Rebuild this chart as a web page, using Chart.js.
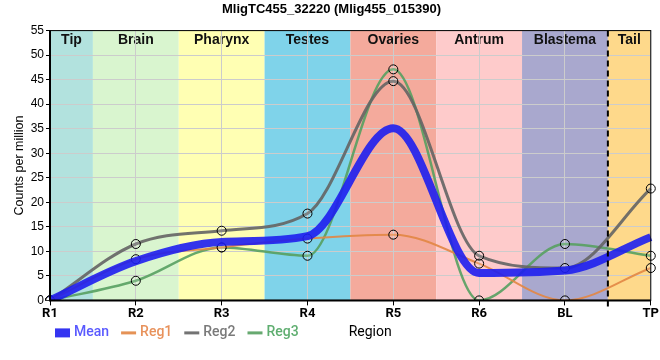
<!DOCTYPE html>
<html>
<head>
<meta charset="utf-8">
<script src="https://cdn.jsdelivr.net/npm/chart.js@4"></script>
<style>
  body { margin: 0; background: #fff; }
  #wrap { width: 660px; height: 360px; }
</style>
</head>
<body>
<div id="wrap"><canvas id="myChart" width="660" height="360"></canvas></div>
<script>
// data
const categories = ['R1', 'R2', 'R3', 'R4', 'R5', 'R6', 'BL', 'TP'];
const meanValues = [0, 8.0, 11.9, 13.1, 35.1, 5.6, 6.1, 12.9];
const reg1Values = [0, 8.4, 10.8, 12.6, 13.4, 7.5, 0, 6.6];
const reg2Values = [0, 11.5, 14.2, 17.7, 44.7, 9.1, 6.6, 22.8];
const reg3Values = [0, 4.0, 10.8, 9.1, 47.1, 0, 11.5, 9.1];
const regionNames = ['Tip', 'Brain', 'Pharynx', 'Testes', 'Ovaries', 'Antrum', 'Blastema', 'Tail'];
const regionColors = ['#b2e2de', '#d9f5cf', '#ffffb3', '#7fd3ea', '#f4aa9c', '#fecbcb', '#a9a8ce', '#fed98b'];
const legendTextColors = ['#5a5aff', '#e8925c', '#7a7a7a', '#5fae70'];
const yMax = 55;
const yStep = 5;

// background bands for each region + labels + dashed line before the tail
const bandsPlugin = {
    id: 'bands',
    beforeDraw(chart) {
        const ctx = chart.ctx;
        const x = chart.scales.x;
        const area = chart.chartArea;
        const n = categories.length;
        ctx.save();
        for (let i = 0; i < n; i++) {
            let left = i === 0 ? area.left : (x.getPixelForValue(i - 1) + x.getPixelForValue(i)) / 2;
            let right = i === n - 1 ? area.right : (x.getPixelForValue(i) + x.getPixelForValue(i + 1)) / 2;
            ctx.fillStyle = regionColors[i];
            ctx.fillRect(left, area.top, right - left, area.bottom - area.top);
            ctx.fillStyle = '#111';
            ctx.font = 'bold 14px "Liberation Sans", Arial, sans-serif';
            ctx.textAlign = 'center';
            ctx.textBaseline = 'middle';
            ctx.fillText(regionNames[i], (left + right) / 2, area.top + 10);
        }
        ctx.restore();
    },
    afterDatasetsDraw(chart) {
        const ctx = chart.ctx;
        const x = chart.scales.x;
        const area = chart.chartArea;
        const n = categories.length;
        const dx = (x.getPixelForValue(n - 2) + x.getPixelForValue(n - 1)) / 2;
        ctx.save();
        ctx.strokeStyle = '#000';
        ctx.lineWidth = 2;
        ctx.setLineDash([6, 4]);
        ctx.beginPath();
        ctx.moveTo(dx, area.top);
        ctx.lineTo(dx, area.bottom + 6);
        ctx.stroke();
        ctx.setLineDash([]);
        // frame
        ctx.lineWidth = 1;
        ctx.strokeRect(area.left, area.top, area.right - area.left, area.bottom - area.top);
        ctx.lineWidth = 2;
        ctx.beginPath();
        ctx.moveTo(area.left, area.top);
        ctx.lineTo(area.left, area.bottom);
        ctx.lineTo(area.right, area.bottom);
        ctx.stroke();
        ctx.restore();
    },
    afterDraw(chart) {
        // legend row drawn by hand, with the "Region" axis title at its end
        const ctx = chart.ctx;
        const area = chart.chartArea;
        const y = area.bottom + 32;
        let x = area.left + 5;
        ctx.save();
        ctx.font = '500 14px Roboto, sans-serif';
        ctx.textAlign = 'left';
        ctx.textBaseline = 'middle';
        chart.data.datasets.forEach((ds, i) => {
            ctx.fillStyle = ds.borderColor;
            if (i === 0) {
                ctx.fillRect(x, y - 4, 15, 9);
            } else {
                ctx.fillRect(x, y - 1, 15, 3);
            }
            x += 19;
            ctx.fillStyle = legendTextColors[i];
            ctx.fillText(ds.label, x, y);
            x += ctx.measureText(ds.label).width + 12;
        });
        ctx.fillStyle = '#000';
        ctx.font = '14px Roboto, sans-serif';
        ctx.fillText('Region', x + 38, y);
        ctx.restore();
    }
};

const ctx = document.getElementById('myChart').getContext('2d');
new Chart(ctx, {
    type: 'line',
    data: {
        labels: categories,
        datasets: [{
            label: 'Mean',
            data: meanValues,
            borderColor: 'rgba(30, 30, 240, 0.9)',
            backgroundColor: 'rgba(30, 30, 240, 0.9)',
            borderWidth: 8,
            pointRadius: 0,
            cubicInterpolationMode: 'monotone',
            order: 1
        }, {
            label: 'Reg1',
            data: reg1Values,
            borderColor: 'rgba(226, 134, 68, 0.9)',
            backgroundColor: 'rgba(255, 255, 255, 0.15)',
            borderWidth: 2,
            pointRadius: 4.5,
            pointBorderColor: '#000',
            pointBorderWidth: 1,
            cubicInterpolationMode: 'monotone',
            order: 2
        }, {
            label: 'Reg2',
            data: reg2Values,
            borderColor: 'rgba(100, 100, 100, 0.9)',
            backgroundColor: 'rgba(255, 255, 255, 0.15)',
            borderWidth: 3,
            pointRadius: 4.5,
            pointBorderColor: '#000',
            pointBorderWidth: 1,
            cubicInterpolationMode: 'monotone',
            order: 3
        }, {
            label: 'Reg3',
            data: reg3Values,
            borderColor: 'rgba(86, 160, 96, 0.9)',
            backgroundColor: 'rgba(255, 255, 255, 0.15)',
            borderWidth: 2.5,
            pointRadius: 4.5,
            pointBorderColor: '#000',
            pointBorderWidth: 1,
            cubicInterpolationMode: 'monotone',
            order: 4
        }]
    },
    options: {
        responsive: false,
        animation: false,
        layout: { padding: { left: 12, right: 9, top: 0, bottom: 37 } },
        plugins: {
            title: {
                display: true,
                text: 'MligTC455_32220 (Mlig455_015390)',
                color: '#000',
                font: { family: '"Liberation Sans", Arial, sans-serif', size: 13, weight: 'bold' },
                padding: { top: 2, bottom: 13 }
            },
            legend: { display: false },
            tooltip: { enabled: false }
        },
        scales: {
            x: {
                offset: false,
                grid: { color: '#cccccc', drawTicks: true, tickLength: 5, tickColor: '#000' },
                border: { display: false },
                ticks: {
                    color: '#000',
                    font: { family: 'Roboto, sans-serif', size: 13, weight: 'bold' },
                    padding: 1,
                    maxRotation: 0
                }
            },
            y: {
                min: 0,
                max: yMax,
                grid: { color: '#cccccc', tickLength: 4, tickColor: '#000' },
                border: { display: false },
                ticks: {
                    stepSize: yStep,
                    color: '#000',
                    font: { family: '"Liberation Sans", Arial, sans-serif', size: 12 },
                    padding: 2
                },
                title: {
                    display: true,
                    text: 'Counts per million',
                    color: '#000',
                    font: { family: '"Liberation Sans", Arial, sans-serif', size: 12.5 },
                    padding: { top: 0, bottom: 2 }
                },
                afterFit(scale) { scale.width = 38; }
            }
        }
    },
    plugins: [bandsPlugin]
});
</script>
</body>
</html>
